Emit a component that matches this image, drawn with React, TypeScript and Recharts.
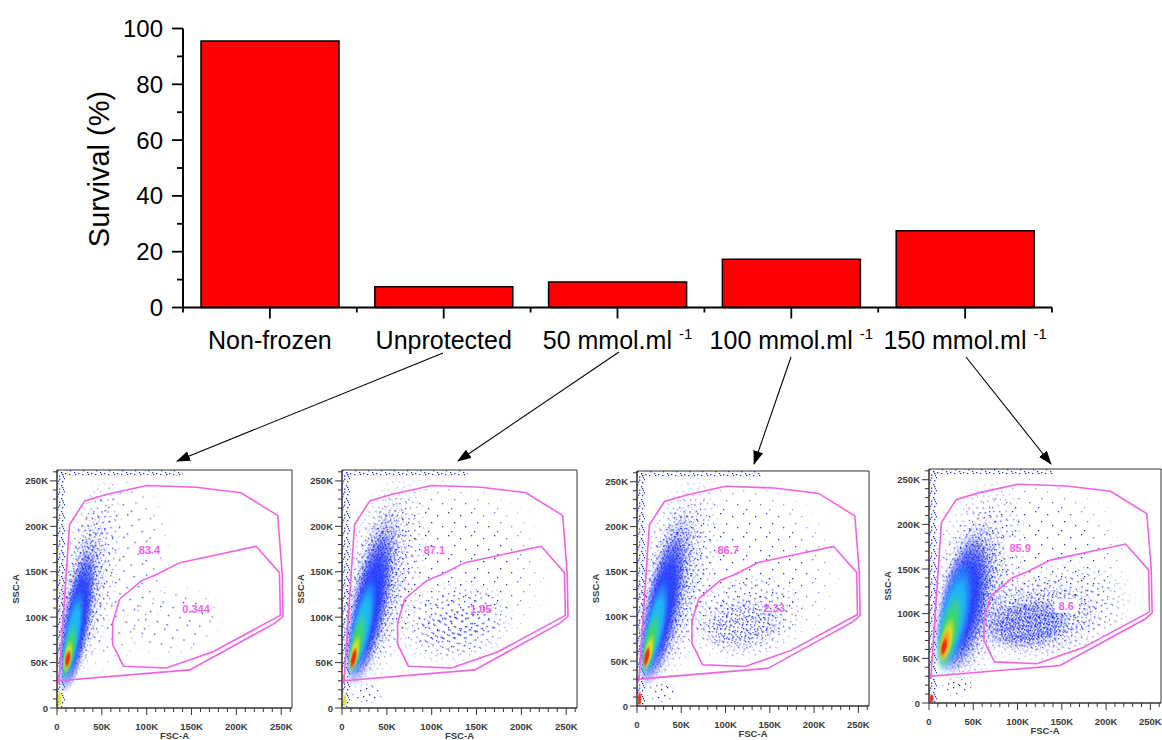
import React from 'react';
import { BarChart, Bar, XAxis, YAxis, ScatterChart, Scatter, ReferenceArea } from 'recharts';

// ---------------- data ----------------
const categories = ['Non-frozen', 'Unprotected', '50 mmol.ml', '100 mmol.ml', '150 mmol.ml'];
const categorySup = ['', '', '-1', '-1', '-1'];
const survival = [95.5, 7.4, 9.1, 17.3, 27.5];
const survivalTicks = [0, 10, 20, 30, 40, 50, 60, 70, 80, 90, 100];
const survivalMajor = [0, 20, 40, 60, 80, 100];

const flowTicks = [0, 10, 20, 30, 40, 50, 60, 70, 80, 90, 100, 110, 120, 130, 140, 150, 160, 170, 180, 190, 200, 210, 220, 230, 240, 250, 260];
const flowTickLabels: Record<number, string> = { 0: '0', 50: '50K', 100: '100K', 150: '150K', 200: '200K', 250: '250K' };

// gates (FSC-A K, SSC-A K)
const outerGate = [
  { x: 2, y: 27 }, { x: 14, y: 202 }, { x: 31, y: 228 }, { x: 55, y: 235 }, { x: 100, y: 245 },
  { x: 155, y: 243 }, { x: 205, y: 237 }, { x: 246, y: 212 }, { x: 251, y: 149 }, { x: 252, y: 101 },
  { x: 244, y: 94 }, { x: 148, y: 42 }, { x: 2, y: 30 },
];
const innerGate = [
  { x: 70, y: 120 }, { x: 94, y: 140 }, { x: 111, y: 147 }, { x: 137, y: 160 }, { x: 222, y: 178 },
  { x: 248, y: 149 }, { x: 249, y: 102 }, { x: 174, y: 62 }, { x: 122, y: 44 }, { x: 74, y: 46 },
  { x: 62, y: 70 }, { x: 62, y: 94 },
];
const outerLabelPos = { x: 103, y: 174 };
const innerLabelPos = { x: 155, y: 109 };
const outerPct = ['83.4', '87.1', '86.7', '85.9'];
const innerPct = ['0.344', '1.05', '2.33', '8.6'];

// density regions: centre (K), radii (K), tilt, level
const blobsUnprotected = [
  { x: 60, y: 150, rx: 70, ry: 120, rot: 10, lv: 's0' },
  { x: 35, y: 140, rx: 35, ry: 120, rot: 10, lv: 's1' },
  { x: 28, y: 120, rx: 24, ry: 105, rot: 10, lv: 's2' },
  { x: 24, y: 105, rx: 18, ry: 90, rot: 10, lv: 's3' },
  { x: 22, y: 95, rx: 15, ry: 80, rot: 10, lv: 'bl' },
  { x: 17, y: 78, rx: 10, ry: 55, rot: 10, lv: 'cy' },
  { x: 14, y: 63, rx: 7, ry: 32, rot: 10, lv: 'gr' },
  { x: 12, y: 56, rx: 5, ry: 20, rot: 10, lv: 'ye' },
  { x: 12, y: 54, rx: 3.5, ry: 11, rot: 10, lv: 're' },
  { x: 3, y: 10, rx: 2.5, ry: 12, rot: 0, lv: 'ye' },
  { x: 130, y: 95, rx: 60, ry: 40, rot: -10, lv: 's0' },
];
const blobs50 = [
  { x: 110, y: 150, rx: 125, ry: 110, rot: 0, lv: 's0' },
  { x: 45, y: 140, rx: 48, ry: 125, rot: 12, lv: 's1' },
  { x: 38, y: 130, rx: 32, ry: 110, rot: 12, lv: 's2' },
  { x: 33, y: 120, rx: 24, ry: 100, rot: 12, lv: 's3' },
  { x: 30, y: 110, rx: 19, ry: 88, rot: 12, lv: 'bl' },
  { x: 22, y: 88, rx: 12, ry: 58, rot: 12, lv: 'cy' },
  { x: 17, y: 72, rx: 8, ry: 36, rot: 12, lv: 'gr' },
  { x: 14, y: 60, rx: 5.5, ry: 22, rot: 12, lv: 'ye' },
  { x: 13, y: 55, rx: 3.5, ry: 13, rot: 12, lv: 're' },
  { x: 28, y: 16, rx: 20, ry: 12, rot: 0, lv: 's1' },
  { x: 3, y: 8, rx: 2.5, ry: 10, rot: 0, lv: 'ye' },
  { x: 128, y: 95, rx: 68, ry: 48, rot: -12, lv: 's1' },
  { x: 125, y: 88, rx: 45, ry: 26, rot: -10, lv: 's1' },
];
const blobs100 = [
  { x: 110, y: 150, rx: 125, ry: 110, rot: 0, lv: 's0' },
  { x: 44, y: 140, rx: 48, ry: 125, rot: 12, lv: 's1' },
  { x: 37, y: 128, rx: 32, ry: 110, rot: 12, lv: 's2' },
  { x: 32, y: 118, rx: 24, ry: 100, rot: 12, lv: 's3' },
  { x: 28, y: 108, rx: 19, ry: 88, rot: 12, lv: 'bl' },
  { x: 20, y: 86, rx: 12, ry: 58, rot: 12, lv: 'cy' },
  { x: 15, y: 70, rx: 8, ry: 36, rot: 12, lv: 'gr' },
  { x: 13, y: 60, rx: 5.5, ry: 22, rot: 12, lv: 'ye' },
  { x: 11, y: 55, rx: 3.5, ry: 13, rot: 12, lv: 're' },
  { x: 28, y: 15, rx: 20, ry: 12, rot: 0, lv: 's1' },
  { x: 3, y: 8, rx: 2.5, ry: 10, rot: 0, lv: 're' },
  { x: 125, y: 100, rx: 70, ry: 50, rot: -12, lv: 's1' },
  { x: 118, y: 90, rx: 50, ry: 30, rot: -10, lv: 's2' },
];
const blobs150 = [
  { x: 110, y: 150, rx: 125, ry: 110, rot: 0, lv: 's0' },
  { x: 55, y: 135, rx: 55, ry: 125, rot: 12, lv: 's1' },
  { x: 48, y: 120, rx: 40, ry: 100, rot: 12, lv: 's2' },
  { x: 42, y: 115, rx: 32, ry: 88, rot: 12, lv: 's3' },
  { x: 38, y: 110, rx: 26, ry: 78, rot: 12, lv: 'bl' },
  { x: 28, y: 95, rx: 18, ry: 65, rot: 12, lv: 'cy' },
  { x: 23, y: 80, rx: 12, ry: 45, rot: 12, lv: 'gr' },
  { x: 20, y: 70, rx: 8, ry: 28, rot: 12, lv: 'ye' },
  { x: 18, y: 66, rx: 5.5, ry: 18, rot: 12, lv: 'or' },
  { x: 17, y: 63, rx: 3.5, ry: 11, rot: 12, lv: 're' },
  { x: 33, y: 18, rx: 20, ry: 12, rot: 0, lv: 's1' },
  { x: 3, y: 5, rx: 3, ry: 6, rot: 0, lv: 're' },
  { x: 140, y: 102, rx: 98, ry: 58, rot: -12, lv: 's1' },
  { x: 125, y: 95, rx: 72, ry: 42, rot: -10, lv: 's2' },
  { x: 112, y: 88, rx: 50, ry: 28, rot: -8, lv: 's3' },
];
const panelBlobs = [blobsUnprotected, blobs50, blobs100, blobs150];

// ---------------- layout ----------------
const FONT = "Arial, 'Liberation Sans', sans-serif";
const BAR_LEFT = 183;
const BAR_RIGHT = 1052;
const BAR_TOP = 28.5;
const BAR_BOTTOM = 307.5;
const BAR_H = 380;
const BAR_YW = 60;
const BAND_HALF = (BAR_RIGHT - BAR_LEFT) / categories.length / 2;

const PANELS = [
  { left: 57, top: 470, w: 235, h: 238, boxed: false },
  { left: 342, top: 470, w: 235, h: 238, boxed: false },
  { left: 637, top: 471, w: 232, h: 235, boxed: false },
  { left: 929, top: 469, w: 232, h: 234, boxed: true },
];
const FMAX = 262;
const YW = 45;
const MT = 5;
const MR = 5;
const XH = 40;
const GATE = '#f262e4';

const ARROWS = [
  [443, 353, 177, 461],
  [619, 352, 458, 461],
  [791, 357, 754, 464],
  [966, 357, 1051, 464],
];

const LEVEL_FILL: Record<string, string> = {
  s0: 'url(#fpS0)', s1: 'url(#fpS1)', s2: 'url(#fpS2)', s3: 'url(#fpS3)',
  bl: 'url(#fgBl)', cy: 'url(#fgCy)', gr: 'url(#fgGr)', ye: 'url(#fgYe)', or: 'url(#fgOr)', re: 'url(#fgRe)',
};
const PATTERN_LEVELS = ['s0', 's1', 's2', 's3'];

// ---------------- ticks ----------------
const BarYTick = (props: any) => {
  const { x, y, payload } = props;
  const major = survivalMajor.includes(payload.value);
  return (
    <g>
      <line x1={x} x2={x - (major ? 11 : 6)} y1={y} y2={y} stroke="#000" strokeWidth={1.8} />
      {major && (
        <text x={x - 20} y={y + 8.5} textAnchor="end" fontSize={24} fill="#000" fontFamily={FONT}>
          {payload.value}
        </text>
      )}
    </g>
  );
};

const BarXTick = (props: any) => {
  const { x, y, payload, index } = props;
  const i = typeof index === 'number' ? index : categories.indexOf(payload.value);
  const sup = categorySup[i];
  return (
    <g>
      <line x1={x} x2={x} y1={y} y2={y + 11} stroke="#000" strokeWidth={1.8} />
      <line x1={x - BAND_HALF} x2={x - BAND_HALF} y1={y} y2={y + 5} stroke="#000" strokeWidth={1.8} />
      {i === categories.length - 1 && (
        <line x1={x + BAND_HALF} x2={x + BAND_HALF} y1={y} y2={y + 5} stroke="#000" strokeWidth={1.8} />
      )}
      <text x={x} y={y + 41} textAnchor="middle" fontSize={25} fill="#000" fontFamily={FONT}>
        <tspan>{payload.value}</tspan>
        {sup && <tspan>{' '}</tspan>}
        {sup && (
          <tspan fontSize={15} dy={-10}>
            {sup}
          </tspan>
        )}
      </text>
    </g>
  );
};

const FlowXTick = (props: any) => {
  const { x, y, payload } = props;
  const label = flowTickLabels[payload.value];
  return (
    <g>
      <line x1={x} x2={x} y1={y} y2={y + (label ? 7 : 4)} stroke="#333" strokeWidth={1} />
      {label && (
        <text x={x} y={y + 22} textAnchor="middle" fontSize={9.5} fontWeight="bold" fill="#3a3a3a" fontFamily={FONT}>
          {label}
        </text>
      )}
    </g>
  );
};

const FlowYTick = (props: any) => {
  const { x, y, payload } = props;
  const label = flowTickLabels[payload.value];
  return (
    <g>
      <line x1={x} x2={x - (label ? 7 : 4)} y1={y} y2={y} stroke="#333" strokeWidth={1} />
      {label && (
        <text x={x - 9} y={y + 3.5} textAnchor="end" fontSize={9.5} fontWeight="bold" fill="#3a3a3a" fontFamily={FONT}>
          {label}
        </text>
      )}
    </g>
  );
};

const EmptyShape = () => <g />;

// ---------------- flow panel ----------------
function FlowPanel({ idx }: { idx: number }) {
  const P = PANELS[idx];
  const kx = P.w / FMAX;
  const ky = P.h / FMAX;
  const blobs = panelBlobs[idx];
  const labels = [
    { ...outerLabelPos, t: outerPct[idx] },
    { ...innerLabelPos, t: innerPct[idx] },
  ];

  const BlobShape = (props: any) => {
    const { cx, cy, payload } = props;
    const isPattern = PATTERN_LEVELS.includes(payload.lv);
    return (
      <ellipse
        cx={cx}
        cy={cy}
        rx={payload.rx * kx}
        ry={payload.ry * ky}
        transform={`rotate(${payload.rot} ${cx} ${cy})`}
        fill={LEVEL_FILL[payload.lv]}
        mask={isPattern ? 'url(#fadeMask)' : undefined}
        stroke="none"
      />
    );
  };

  const LabelShape = (props: any) => {
    const { cx, cy, payload } = props;
    const w = payload.t.length * 6.4 + 4;
    return (
      <g>
        {P.boxed && <rect x={cx - w / 2} y={cy - 7} width={w} height={14} fill="#fff" />}
        <text x={cx} y={cy + 4} textAnchor="middle" fontSize={11} fontWeight="bold" fill={GATE} fontFamily={FONT}>
          {payload.t}
        </text>
      </g>
    );
  };

  return (
    <div style={{ position: 'absolute', left: P.left - YW, top: P.top - MT }}>
      <ScatterChart width={YW + P.w + MR} height={MT + P.h + XH} margin={{ top: MT, right: MR, left: 0, bottom: 0 }}>
        <XAxis
          type="number"
          dataKey="x"
          domain={[0, FMAX]}
          ticks={flowTicks}
          interval={0}
          tickSize={0}
          tickMargin={0}
          tick={<FlowXTick />}
          tickLine={false}
          axisLine={{ stroke: '#333', strokeWidth: 1 }}
          height={XH}
          allowDataOverflow
        />
        <YAxis
          type="number"
          dataKey="y"
          domain={[0, FMAX]}
          ticks={flowTicks}
          interval={0}
          tickSize={0}
          tickMargin={0}
          tick={<FlowYTick />}
          tickLine={false}
          axisLine={{ stroke: '#333', strokeWidth: 1 }}
          width={YW}
          allowDataOverflow
        />
        <ReferenceArea x1={0} x2={9} y1={0} y2={FMAX} fill="url(#fpS2)" fillOpacity={1} stroke="none" ifOverflow="visible" />
        <ReferenceArea x1={0} x2={140} y1={256} y2={FMAX} fill="url(#fpS2)" fillOpacity={1} stroke="none" ifOverflow="visible" />
        <Scatter data={blobs} shape={BlobShape} isAnimationActive={false} />
        <Scatter
          data={[...outerGate, outerGate[0]]}
          line={{ stroke: GATE, strokeWidth: 1.6 }}
          lineType="joint"
          shape={EmptyShape}
          isAnimationActive={false}
        />
        <Scatter
          data={[...innerGate, innerGate[0]]}
          line={{ stroke: GATE, strokeWidth: 1.6 }}
          lineType="joint"
          shape={EmptyShape}
          isAnimationActive={false}
        />
        <Scatter data={labels} shape={LabelShape} isAnimationActive={false} />
        <ReferenceArea x1={0} x2={FMAX} y1={0} y2={FMAX} fill="none" stroke="#333" strokeWidth={1} ifOverflow="visible" />
      </ScatterChart>
    </div>
  );
}

// ---------------- defs ----------------
const dotsS0 = [[2, 4], [13, 1], [19, 11], [7, 15], [16, 20]];
const dotsS1 = [[1, 2], [7, 0], [12, 4], [15, 10], [4, 8], [9, 11], [1, 14], [13, 15], [6, 16]];
const dotsS2 = [[0, 0], [4, 1], [8, 0.5], [11, 3], [2, 4], [6, 5], [10, 7], [1, 8], [5, 9], [8, 10.5], [12, 11], [3, 12], [7, 2.5], [11, 9]];
const dotsS3 = [[0, 0], [3, 0.5], [6, 0], [1.5, 2], [4.5, 2.5], [7.5, 1.5], [0, 4], [3, 4.5], [6, 4], [8, 5.5], [1.5, 6.5], [4.5, 6.5], [7, 7.5], [0, 8], [3, 8], [5.5, 8.5], [2, 1], [8, 3]];

function Defs() {
  const pat = (id: string, size: number, dots: number[][]) => (
    <pattern id={id} width={size} height={size} patternUnits="userSpaceOnUse">
      {dots.map((d, i) => (
        <rect key={i} x={d[0]} y={d[1]} width={1.3} height={1.3} fill="#1a2cff" />
      ))}
    </pattern>
  );
  const grad = (id: string, color: string, mid: number) => (
    <radialGradient id={id} cx="50%" cy="50%" r="50%">
      <stop offset="0" stopColor={color} stopOpacity={1} />
      <stop offset={mid} stopColor={color} stopOpacity={0.85} />
      <stop offset="1" stopColor={color} stopOpacity={0} />
    </radialGradient>
  );
  return (
    <svg width={0} height={0} style={{ position: 'absolute' }}>
      <defs>
        {pat('fpS0', 23, dotsS0)}
        {pat('fpS1', 17, dotsS1)}
        {pat('fpS2', 13, dotsS2)}
        {pat('fpS3', 9, dotsS3)}
        {grad('fgBl', '#2038ff', 0.55)}
        {grad('fgCy', '#20c4f4', 0.55)}
        {grad('fgGr', '#40d860', 0.5)}
        {grad('fgYe', '#e8e020', 0.5)}
        {grad('fgOr', '#ff9010', 0.5)}
        {grad('fgRe', '#f02010', 0.5)}
        <radialGradient id="fadeGrad" cx="50%" cy="50%" r="50%">
          <stop offset="0" stopColor="#fff" stopOpacity={1} />
          <stop offset="0.6" stopColor="#fff" stopOpacity={1} />
          <stop offset="1" stopColor="#fff" stopOpacity={0} />
        </radialGradient>
        <mask id="fadeMask" maskContentUnits="objectBoundingBox">
          <rect x={0} y={0} width={1} height={1} fill="url(#fadeGrad)" />
        </mask>
        <marker id="arrowHead" markerWidth={14} markerHeight={10} refX={13} refY={5} orient="auto" markerUnits="userSpaceOnUse">
          <path d="M0,0 L14,5 L0,10 z" fill="#000" />
        </marker>
      </defs>
    </svg>
  );
}

const barData = categories.map((c, i) => ({ name: c, value: survival[i] }));

export default function App() {
  return (
    <div
      style={{
        position: 'absolute',
        left: 0,
        top: 0,
        width: 1162,
        height: 740,
        overflow: 'hidden',
        background: '#fff',
        fontFamily: FONT,
      }}
    >
      <Defs />
      <div style={{ position: 'absolute', left: 0, top: 0 }}>
        <BarChart
          width={1162}
          height={BAR_H}
          data={barData}
          margin={{ top: BAR_TOP, right: 1162 - BAR_RIGHT, left: BAR_LEFT - BAR_YW, bottom: BAR_H - BAR_BOTTOM - 40 }}
        >
          <XAxis
            dataKey="name"
            type="category"
            interval={0}
            tickSize={0}
            tickMargin={0}
            tickLine={false}
            tick={<BarXTick />}
            axisLine={{ stroke: '#000', strokeWidth: 2 }}
            height={40}
          />
          <YAxis
            type="number"
            domain={[0, 100]}
            ticks={survivalTicks}
            interval={0}
            tickSize={0}
            tickMargin={0}
            tickLine={false}
            tick={<BarYTick />}
            axisLine={{ stroke: '#000', strokeWidth: 2 }}
            width={BAR_YW}
          />
          <Bar dataKey="value" fill="#ff0000" stroke="#000" strokeWidth={1.5} barSize={138} isAnimationActive={false} />
        </BarChart>
      </div>
      {PANELS.map((_, i) => (
        <FlowPanel key={i} idx={i} />
      ))}
      <svg width={1162} height={740} style={{ position: 'absolute', left: 0, top: 0, pointerEvents: 'none' }}>
        <text x={109} y={169} transform="rotate(-90 109 169)" textAnchor="middle" fontSize={29} fill="#000" fontFamily={FONT}>
          Survival (%)
        </text>
        {ARROWS.map((a, i) => (
          <line key={i} x1={a[0]} y1={a[1]} x2={a[2]} y2={a[3]} stroke="#000" strokeWidth={1.1} markerEnd="url(#arrowHead)" />
        ))}
        {PANELS.map((P, i) => (
          <g key={i}>
            <text
              x={P.left - 38}
              y={P.top + P.h / 2}
              transform={`rotate(-90 ${P.left - 38} ${P.top + P.h / 2})`}
              textAnchor="middle"
              fontSize={9.5}
              fontWeight="bold"
              fill="#3a3a3a"
              fontFamily={FONT}
            >
              SSC-A
            </text>
            <text x={P.left + P.w / 2} y={Math.min(P.top + P.h + 31, 739)} textAnchor="middle" fontSize={9.5} fontWeight="bold" fill="#3a3a3a" fontFamily={FONT}>
              FSC-A
            </text>
          </g>
        ))}
      </svg>
    </div>
  );
}
